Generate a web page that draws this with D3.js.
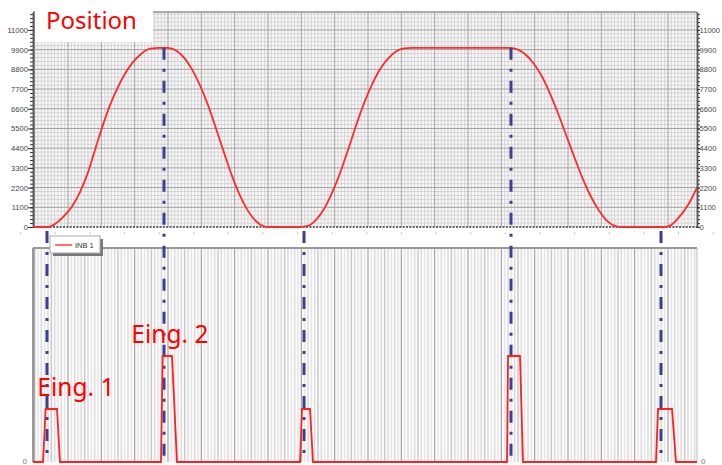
<!DOCTYPE html>
<html>
<head>
<meta charset="utf-8">
<script src="https://cdn.jsdelivr.net/npm/d3@7"></script>
<style>
  body { margin: 0; background: #fff; }
  svg { display: block; }
  .tick text { font-family: "Liberation Sans", Arial, sans-serif; font-size: 7.6px; fill: #444; }
  .lbl { font-family: "Noto Sans", sans-serif; fill: #ff0000; }
</style>
</head>
<body>
<svg id="chart" width="722" height="465"></svg>
<script>
// position trace (time in grid units, value in increments)
var posTime = [-0.05, 0.40, 0.61, 0.82, 1.12, 1.36, 1.60, 1.81, 2.05, 2.26, 2.47, 2.71, 2.95, 3.22, 3.46, 3.76,
  4.00, 4.24, 4.48, 4.72, 4.96, 5.20, 5.44, 5.68, 5.92, 6.16, 6.40, 6.64, 6.88, 7.06,
  7.96, 8.20, 8.44, 8.68, 8.92, 9.16, 9.40, 9.64, 9.88, 10.12, 10.36, 10.60, 10.84, 11.08, 11.32,
  14.26, 14.50, 14.74, 14.98, 15.22, 15.46, 15.70, 15.94, 16.18, 16.42, 16.66, 16.90, 17.14, 17.38, 17.62,
  18.85, 19.06, 19.30, 19.60, 19.87];
var posValue = [0, 0, 170, 500, 1150, 1950, 3050, 4300, 5700, 6800, 7700, 8550, 9200, 9700, 9950, 10000,
  10000, 9850, 9450, 8800, 7900, 6800, 5500, 4150, 2850, 1750, 900, 320, 40, 0,
  0, 60, 400, 1000, 1900, 3000, 4300, 5650, 6900, 7950, 8800, 9400, 9800, 9970, 10000,
  10000, 9900, 9600, 9100, 8400, 7450, 6350, 5150, 3950, 2800, 1800, 1000, 400, 80, 0,
  0, 80, 480, 1230, 2200];

// input INB 1
var inbTime = [-0.05, 0.25, 0.33, 0.67, 0.76, 3.79, 3.84, 4.12, 4.27, 7.96, 8.02, 8.26, 8.35,
  14.17, 14.20, 14.56, 14.65, 18.64, 18.70, 19.12, 19.24, 19.87];
var inbValue = [0, 0, 1, 1, 0, 0, 2, 2, 0, 0, 1, 1, 0, 0, 2, 2, 0, 0, 1, 1, 0, 0];

// dash-dot markers
var markTime = [0.37, 3.88, 8.08, 14.29, 18.79];
var markValue = [0, 10000, 0, 10000, 0];

var yTicks = [0, 1100, 2200, 3300, 4400, 5500, 6600, 7700, 8800, 9900, 11000];

var labels = [
  { text: 'Eing. 1', t: 0.08, v: 1.3 },
  { text: 'Eing. 2', t: 2.9, v: 2.3 }
];

var svg = d3.select('#chart');
var left = 33, right = 697;

var x = d3.scaleLinear().domain([-0.05, 19.87]).range([left, right]);
var yTop = d3.scaleLinear().domain([0, 12000]).range([227, 12]);
var yBot = d3.scaleLinear().domain([0, 4]).range([462, 250]);

var top0 = yTop.range()[1], top1 = yTop.range()[0];
var bot0 = 248, bot1 = yBot.range()[0];

var minorT = d3.range(0, 199).map(function(i) { return i / 10; });

// ---- top panel grid
var gTop = svg.append('g');
gTop.append('rect').attr('x', left).attr('y', top0).attr('width', right - left)
  .attr('height', top1 - top0).attr('fill', '#f8f8f8');
gTop.selectAll('line.mv').data(minorT.filter(function(t) { return Math.round(t * 10) % 10 !== 0; }))
  .enter().append('line')
  .attr('x1', function(d) { return x(d); }).attr('x2', function(d) { return x(d); })
  .attr('y1', top0).attr('y2', top1)
  .attr('stroke', '#d4d4d4').attr('stroke-width', 1);
gTop.selectAll('line.mh').data(d3.range(220, 12000, 220))
  .enter().append('line')
  .attr('x1', left).attr('x2', right)
  .attr('y1', function(d) { return yTop(d); }).attr('y2', function(d) { return yTop(d); })
  .attr('stroke', function(d) { return d % 1100 === 0 ? '#a0a0a0' : '#d4d4d4'; })
  .attr('stroke-width', 1);
gTop.selectAll('line.Mv').data(d3.range(0, 20))
  .enter().append('line')
  .attr('x1', function(d) { return x(d); }).attr('x2', function(d) { return x(d); })
  .attr('y1', top0).attr('y2', top1)
  .attr('stroke', '#a0a0a0').attr('stroke-width', 1);
gTop.append('line').attr('x1', left).attr('x2', right).attr('y1', top0).attr('y2', top0)
  .attr('stroke', '#aaa').attr('stroke-width', 2);

// ---- bottom panel grid
var gBot = svg.append('g');
gBot.append('rect').attr('x', left).attr('y', bot0).attr('width', right - left)
  .attr('height', bot1 - bot0).attr('fill', '#fcfcfc');
gBot.selectAll('line.sv').data(minorT)
  .enter().append('line')
  .attr('x1', function(d) { return x(d); }).attr('x2', function(d) { return x(d); })
  .attr('y1', bot0).attr('y2', bot1)
  .attr('stroke', function(d) {
    var r = Math.round(d * 10);
    if (r % 10 === 0) return '#a4a4a4';
    if (r % 5 === 0) return '#cacaca';
    return r % 2 ? '#e6e6e6' : '#dcdcdc';
  })
  .attr('stroke-width', function(d) { return Math.round(d * 10) % 10 === 0 ? 1.2 : 1.5; });
gBot.append('line').attr('x1', left).attr('x2', right).attr('y1', bot0).attr('y2', bot0)
  .attr('stroke', '#999').attr('stroke-width', 2);
gBot.append('line').attr('x1', left).attr('x2', left).attr('y1', bot0).attr('y2', bot1)
  .attr('stroke', '#999').attr('stroke-width', 2);
gBot.append('line').attr('x1', right).attr('x2', right).attr('y1', bot0).attr('y2', bot1)
  .attr('stroke', '#bbb').attr('stroke-width', 1);

// ---- top axes
function styleAxis(g) {
  g.select('.domain').attr('stroke', '#555').attr('stroke-width', 1.5);
  g.selectAll('.tick line').attr('stroke', '#333');
}
var fmt = d3.format('d');
var minorY = d3.range(0, 12001, 220);
svg.append('g').attr('transform', 'translate(' + left + ',0)')
  .call(d3.axisLeft(yTop).tickValues(minorY).tickSize(3).tickFormat('').tickSizeOuter(0)).call(styleAxis);
svg.append('g').attr('transform', 'translate(' + left + ',0)')
  .call(d3.axisLeft(yTop).tickValues(yTicks).tickFormat(fmt).tickSize(5).tickPadding(0).tickSizeOuter(0)).call(styleAxis);
svg.append('g').attr('transform', 'translate(' + right + ',0)')
  .call(d3.axisRight(yTop).tickValues(minorY).tickSize(3).tickFormat('').tickSizeOuter(0)).call(styleAxis);
svg.append('g').attr('transform', 'translate(' + right + ',0)')
  .call(d3.axisRight(yTop).tickValues(yTicks).tickFormat(fmt).tickSize(3).tickPadding(-0.5).tickSizeOuter(0)).call(styleAxis);

// bottom axis of top panel (dense minor ticks)
svg.append('line').attr('x1', left).attr('x2', right).attr('y1', top1).attr('y2', top1)
  .attr('stroke', '#333').attr('stroke-width', 1.6).attr('stroke-dasharray', '2,1.33');

// faint axis labels under the top panel
svg.selectAll('rect.dot').data(d3.range(20, 722, 34.63))
  .enter().append('rect')
  .attr('x', function(d) { return d; }).attr('y', 232.5).attr('width', 1.2).attr('height', 1.2)
  .attr('fill', '#9aa6dd');

// bottom panel zero labels
svg.append('text').attr('x', left - 6).attr('y', bot1 + 2).attr('text-anchor', 'end')
  .style('font-family', 'Liberation Sans, Arial, sans-serif').style('font-size', '8px').attr('fill', '#777').text('0');
svg.append('text').attr('x', right + 4).attr('y', bot1 + 2)
  .style('font-family', 'Liberation Sans, Arial, sans-serif').style('font-size', '8px').attr('fill', '#777').text('0');

// ---- series
var clip = svg.append('defs');
clip.append('clipPath').attr('id', 'clipTop').append('rect')
  .attr('x', left).attr('y', top0).attr('width', right - left).attr('height', top1 - top0 + 2);

var posData = posTime.map(function(t, i) { return [t, posValue[i]]; });
svg.append('path').datum(posData)
  .attr('clip-path', 'url(#clipTop)')
  .attr('fill', 'none').attr('stroke', '#ff2a2a').attr('stroke-width', 1.8)
  .attr('d', d3.line().x(function(d) { return x(d[0]); }).y(function(d) { return yTop(d[1]); })
    .curve(d3.curveMonotoneX));

// markers
svg.selectAll('line.mark').data(markTime)
  .enter().append('line')
  .attr('x1', function(d) { return x(d); }).attr('x2', function(d) { return x(d); })
  .attr('y1', function(d, i) { return markValue[i] > 0 ? yTop(markValue[i]) : top1 + 4; })
  .attr('y2', bot1)
  .attr('stroke', '#3c3f8e').attr('stroke-width', 3)
  .attr('stroke-dasharray', '12,9,3,9');

var inbData = inbTime.map(function(t, i) { return [t, inbValue[i]]; });
svg.append('path').datum(inbData)
  .attr('fill', 'none').attr('stroke', '#ff2020').attr('stroke-width', 1.8)
  .attr('d', d3.line().x(function(d) { return x(d[0]); }).y(function(d) { return yBot(d[1]); }));

// legend
var lg = svg.append('g').attr('transform', 'translate(50,236)');
lg.append('rect').attr('x', 3).attr('y', 3).attr('width', 50).attr('height', 17).attr('fill', '#777');
lg.append('rect').attr('x', 0).attr('y', 0).attr('width', 50).attr('height', 17)
  .attr('fill', '#fff').attr('stroke', '#aaa');
lg.append('line').attr('x1', 5).attr('x2', 22).attr('y1', 9).attr('y2', 9)
  .attr('stroke', '#ff2020').attr('stroke-width', 1.3);
lg.append('text').attr('x', 25).attr('y', 12)
  .style('font-family', 'Liberation Sans, Arial, sans-serif').style('font-size', '7.5px').attr('fill', '#333')
  .text('INB 1');

// title box
svg.append('rect').attr('x', 35).attr('y', 2).attr('width', 118).attr('height', 40).attr('fill', '#fff');
svg.append('text').attr('class', 'lbl').attr('x', 46).attr('y', 29)
  .style('font-size', '24px').text('Position');

svg.selectAll('text.eing').data(labels)
  .enter().append('text').attr('class', 'lbl')
  .attr('x', function(d) { return x(d.t); })
  .attr('y', function(d) { return yBot(d.v) + 3; })
  .style('font-size', '24.5px')
  .text(function(d) { return d.text; });
</script>
</body>
</html>
